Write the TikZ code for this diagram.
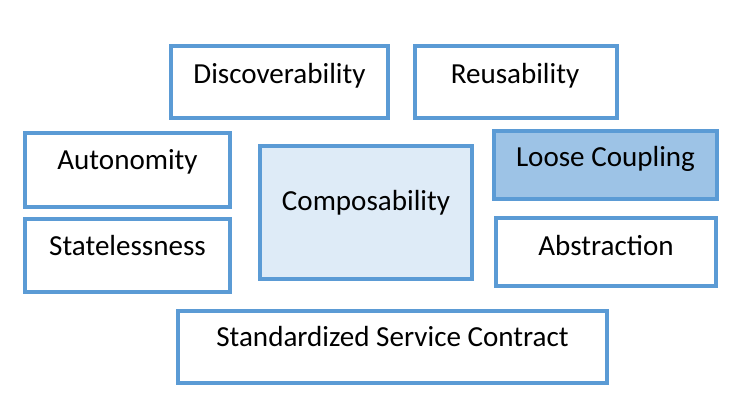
\documentclass[tikz,border=0pt]{standalone}
\usepackage{fontspec}
\setmainfont{Carlito}
\definecolor{edgeblue}{HTML}{5B9BD5}
\definecolor{midfill}{HTML}{9DC3E6}
\definecolor{lightfill}{HTML}{DEEBF7}
\begin{document}
\begin{tikzpicture}[x=0.75pt,y=-0.75pt,
  box/.style={draw=edgeblue,line width=2.3pt,fill=white,rectangle,inner sep=0pt},
  lbl/.style={anchor=base,font=\fontsize{21.8}{25}\selectfont,inner sep=0pt,text=black}]
\useasboundingbox (0,0) rectangle (731,403);
% boxes
\node[box,minimum width=217*0.75pt,minimum height=72*0.75pt] (disc) at (279.5,82) {};
\node[box,minimum width=202*0.75pt,minimum height=72*0.75pt] (reus) at (516,82) {};
\node[box,minimum width=205*0.75pt,minimum height=74*0.75pt] (auto) at (127.5,170) {};
\node[box,minimum width=205*0.75pt,minimum height=73*0.75pt] (stat) at (127.5,255.5) {};
\node[box,fill=lightfill,minimum width=212*0.75pt,minimum height=133*0.75pt] (comp) at (366,212.5) {};
\node[box,fill=midfill,minimum width=223*0.75pt,minimum height=68*0.75pt] (loose) at (605.5,165) {};
\node[box,minimum width=220*0.75pt,minimum height=68*0.75pt] (abst) at (606,252) {};
\node[box,minimum width=429*0.75pt,minimum height=72*0.75pt] (std) at (392.5,347) {};
% labels
\node[lbl] (tdisc) at (279.5,83.3) {Discoverability};
\node[lbl] (treus) at (515,83.3) {Reusability};
\node[lbl] (tauto) at (127.5,169) {Autonomity};
\node[lbl] (tstat) at (127.5,255) {Statelessness};
\node[lbl] (tcomp) at (366,210) {Composability};
\node[lbl] (tloose) at (605.5,166.7) {Loose Coupling};
\node[lbl] (tabst) at (606,255) {Abstraction};
\node[lbl] (tstd) at (392.5,346.7) {Standardized Service Contract};
\end{tikzpicture}
\end{document}
